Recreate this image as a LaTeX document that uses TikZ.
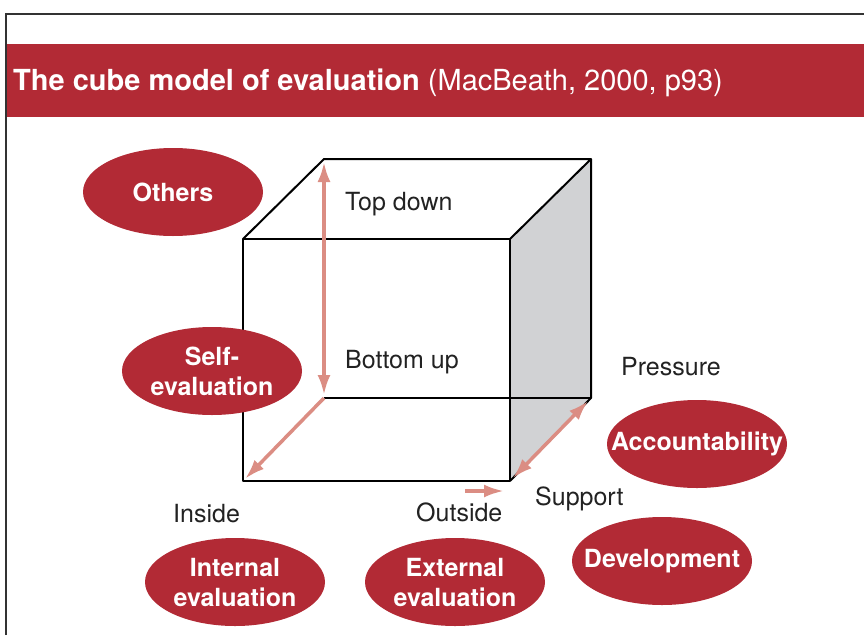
\documentclass[tikz,border=0pt]{standalone}
\usepackage{fontspec}
\setmainfont{TeX Gyre Heros}
\usetikzlibrary{shapes.geometric,arrows.meta}
\definecolor{banred}{HTML}{B22A35}
\definecolor{pinkarrow}{HTML}{DB8D83}
\definecolor{sidegray}{HTML}{D1D2D4}
\definecolor{labgray}{HTML}{222222}
\tikzset{
  oval/.style={ellipse,fill=banred,minimum width=180pt,minimum height=88pt,inner xsep=-40pt,inner ysep=0pt,
    text=white,align=center,font=\fontsize{25}{30}\selectfont\bfseries},
  lab/.style={anchor=base west,inner sep=0pt,text=labgray,font=\fontsize{25}{30}\selectfont},
  cubeline/.style={line width=2pt,black,line join=round},
  parrow/.style={line width=3.5pt,pinkarrow,arrows={-Latex[length=20pt,width=13pt]}},
  pdarrow/.style={line width=3.5pt,pinkarrow,arrows={Latex[length=20pt,width=13pt]-Latex[length=20pt,width=13pt]}}
}
\begin{document}
\begin{tikzpicture}[x=1pt,y=-1pt]
\useasboundingbox (0,0) rectangle (864,635);
% frame
\draw[line width=2pt,black!80] (6,635) -- (6,14) -- (864,14);
% banner
\fill[banred] (7,44) rectangle (864,117);
\node[anchor=base west,inner sep=0pt,text=white,font=\fontsize{29}{34}\selectfont] (title) at (13,90)
  {\textbf{The cube model of evaluation} (MacBeath, 2000, p93)};
% cube corners
\coordinate (ftl) at (243,239);
\coordinate (ftr) at (510,239);
\coordinate (fbl) at (243,481);
\coordinate (fbr) at (510,481);
\coordinate (btl) at (324,159);
\coordinate (btr) at (591,159);
\coordinate (bbl) at (324,398);
\coordinate (bbr) at (591,398);
% shaded side
\fill[sidegray] (ftr) -- (btr) -- (bbr) -- (fbr) -- cycle;
% hidden back edge
\draw[cubeline] (bbl) -- (bbr);
% visible edges
\draw[cubeline] (ftl) rectangle (fbr);
\draw[cubeline] (ftl) -- (btl) -- (btr) -- (ftr);
\draw[cubeline] (btr) -- (bbr) -- (fbr);
% pink arrows
\draw[pdarrow,shorten <=3pt,shorten >=3pt] (btl) -- (bbl);
\draw[parrow,shorten >=3pt] (bbl) -- (fbl);
\draw[pdarrow,shorten <=4pt,shorten >=4pt] (fbr) -- (bbr);
\coordinate (os) at (465,491);
\coordinate (oe) at (504,491);
\draw[parrow] (os) -- (oe);
% labels
\node[lab] (topdown) at (345,210) {Top down};
\node[lab] (bottomup) at (345,368) {Bottom up};
\node[lab] (pressure) at (621,375) {Pressure};
\node[lab] (inside) at (173,522) {Inside};
\node[lab] (outside) at (416,521) {Outside};
\node[lab] (support) at (535,505) {Support};
% ovals
\node[oval] (others) at (173,192) {Others};
\node[oval] (self) at (212,371) {Self-\\evaluation};
\node[oval] (internal) at (235,582) {Internal\\evaluation};
\node[oval] (external) at (455,582) {External\\evaluation};
\node[oval] (development) at (662,561) {Development};
\node[oval] (account) at (697,444) {Accountability};
\end{tikzpicture}
\end{document}
